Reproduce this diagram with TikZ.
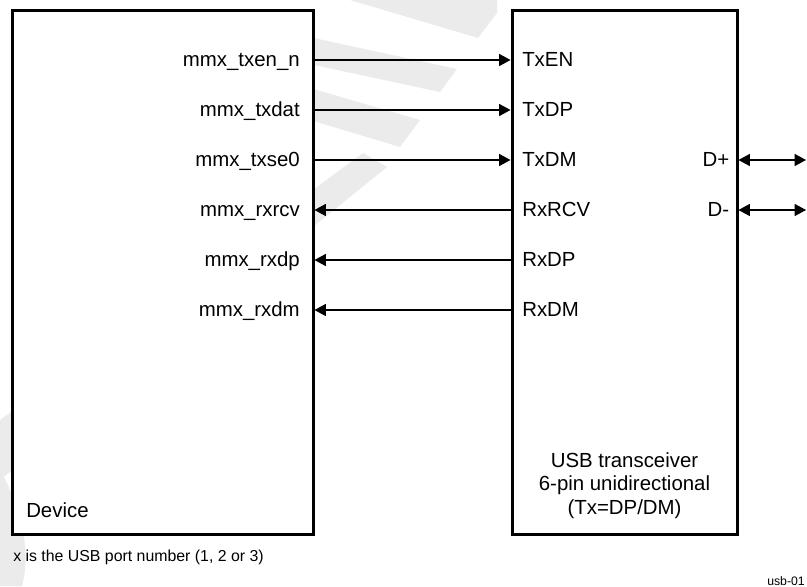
\documentclass[tikz,border=0pt]{standalone}
\usepackage{fontspec}
\setmainfont{Liberation Sans}
\usetikzlibrary{arrows.meta}
\definecolor{wm}{HTML}{EBEBEB}
\begin{document}
\begin{tikzpicture}[x=0.75pt,y=-0.75pt,
  blk/.style={draw, line width=2.25pt, fill=white, inner sep=0pt},
  sig/.style={line width=0.9pt, -{Triangle[length=8.5pt,width=9pt]}},
  bidir/.style={line width=0.9pt, {Triangle[length=8.5pt,width=9pt]}-{Triangle[length=8.5pt,width=9pt]}},
  lbl/.style={inner sep=0pt, font=\fontsize{15.3}{17.6}\selectfont},
]
\useasboundingbox (0,0) rectangle (807,586);
% watermark
\fill[wm] (350,0) -- (478,38) -- (497,13) -- (497,0) -- cycle;
\fill[wm] (300,35) -- (457,69) -- (440,92) -- (300,62) -- cycle;
\fill[wm] (300,85) -- (420,120) -- (400,147) -- (300,117) -- cycle;
\fill[wm] (363,153) -- (387,167) -- (0,480) -- (0,420) -- cycle;
\fill[wm] (0,470) .. controls (20,505) and (32,550) .. (22,586) -- (0,586) -- cycle;
% blocks
\node[blk, minimum width=225.75pt, minimum height=393pt] (dev) at (162.5,272) {};
\node[blk, minimum width=168.75pt, minimum height=393pt] (trx) at (624.5,272) {};
% rows
\coordinate (r1) at (0,60);
\coordinate (r2) at (0,110);
\coordinate (r3) at (0,160);
\coordinate (r4) at (0,210);
\coordinate (r5) at (0,260);
\coordinate (r6) at (0,310);
\coordinate (dp) at (806,160);
\coordinate (dm) at (806,210);
% connectors
\draw[sig] (dev.east |- r1) -- (trx.west |- r1);
\draw[sig] (dev.east |- r2) -- (trx.west |- r2);
\draw[sig] (dev.east |- r3) -- (trx.west |- r3);
\draw[sig] (trx.west |- r4) -- (dev.east |- r4);
\draw[sig] (trx.west |- r5) -- (dev.east |- r5);
\draw[sig] (trx.west |- r6) -- (dev.east |- r6);
\draw[bidir] (trx.east |- dp) -- (dp);
\draw[bidir] (trx.east |- dm) -- (dm);
% device labels
\node[lbl, anchor=base east] (l1) at (300,66.7) {mmx\_txen\_n};
\node[lbl, anchor=base east] (l2) at (300,116.7) {mmx\_txdat};
\node[lbl, anchor=base east] (l3) at (300,166.7) {mmx\_txse0};
\node[lbl, anchor=base east] (l4) at (300,216.7) {mmx\_rxrcv};
\node[lbl, anchor=base east] (l5) at (300,266.7) {mmx\_rxdp};
\node[lbl, anchor=base east] (l6) at (300,316.7) {mmx\_rxdm};
% transceiver labels
\node[lbl, anchor=base west] (t1) at (522,66.7) {TxEN};
\node[lbl, anchor=base west] (t2) at (522,116.7) {TxDP};
\node[lbl, anchor=base west] (t3) at (522,166.7) {TxDM};
\node[lbl, anchor=base west] (t4) at (522,216.7) {RxRCV};
\node[lbl, anchor=base west] (t5) at (522,266.7) {RxDP};
\node[lbl, anchor=base west] (t6) at (522,316.7) {RxDM};
\node[lbl, anchor=base east] (dpl) at (729.5,166.7) {D+};
\node[lbl, anchor=base east] (dml) at (729.5,216.7) {D-};
% block titles
\node[lbl, anchor=base west] (devname) at (26,517.5) {Device};
\node[lbl, align=center, anchor=base] (trxname) at (624.5,514) {USB transceiver\\6-pin unidirectional\\(Tx=DP/DM)};
% notes
\node[inner sep=0pt, anchor=base west, font=\fontsize{11.9}{14}\selectfont] (note) at (13,561.7) {x is the USB port number (1, 2 or 3)};
\node[inner sep=0pt, anchor=base west, font=\fontsize{9.2}{11}\selectfont] (fig) at (767,585) {usb-01};
\end{tikzpicture}
\end{document}
